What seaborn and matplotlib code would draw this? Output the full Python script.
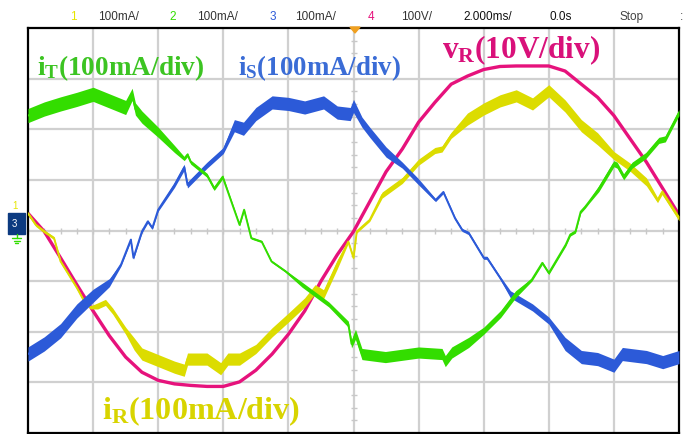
import numpy as np
import pandas as pd
import matplotlib
matplotlib.use("Agg")
import matplotlib.pyplot as plt
from matplotlib.lines import Line2D
import seaborn as sns

# ---------------- data (read from the scope screen) ----------------
# scales
CUR_PER_DIV = 100.0   # mA/div
VOLT_PER_DIV = 10.0   # V/div

# i_T (green), time in ms, current in mA
iT_t = [-10, -9.5, -9, -8.5, -8, -7.5, -7, -6.8, -6.7, -6.5,
        -6, -5.5, -5.2, -5.1, -5, -4.5, -4.28, -4.02, -3.5, -3.36,
        -3.14, -2.82, -2.52, -2.1, -1.58, -1.18, -0.76, -0.16, -0.06, 0.06,
        0.26, 0.98, 2.0, 2.72, 2.82, 3.02, 3.54, 4.0, 4.52, 4.98,
        5.48, 5.8, 6.0, 6.52, 6.66, 6.82, 6.98, 7.12, 7.24, 7.54,
        8.0, 8.1, 8.3, 8.56, 8.98, 9.38, 9.58, 10.0]
iT_mA = [227, 240, 250, 259, 269, 256, 243, 269, 240, 224,
         194, 161, 142, 150, 135, 109, 83, 106, 11, 41,
         -15, -22, -61, -80, -107, -126, -146, -185, -224, -205,
         -244, -250, -241, -244, -258, -241, -221, -198, -165, -126,
         -97, -64, -84, -28, -8, -2, 37, 47, 57, 83,
         132, 129, 106, 129, 148, 178, 181, 233]
iT_ripple = [14, 14, 14, 14, 14, 14, 14, 12, 12, 12,
             10, 7, 4, 4, 4, 4, 4, 4, 2, 2,
             2, 2, 2, 2, 5, 5, 5, 6, 8, 10,
             11, 11, 11, 11, 11, 11, 10, 7, 7, 7,
             3, 3, 3, 3, 3, 3, 3, 3, 3, 6,
             6, 6, 6, 6, 6, 6, 6, 6]

# i_S (blue)
iS_t = [-10, -9.5, -9, -8.5, -8, -7.5, -7.14, -6.84, -6.76, -6.5,
        -6.32, -6.18, -6, -5.5, -5.2, -5.1, -4.5, -4, -3.66, -3.38,
        -3, -2.5, -2, -1.5, -0.92, -0.5, -0.1, 0, 0.26, 0.5,
        1, 1.5, 2, 2.52, 2.76, 3.12, 3.34, 3.54, 4, 4.1,
        4.5, 4.82, 5.5, 6, 6.5, 7, 7.5, 8, 8.26, 9,
        9.5, 10]
iS_mA = [-244, -224, -198, -159, -129, -103, -67, -18, -54, -2,
         18, 5, 41, 90, 125, 90, 129, 158, 207, 201,
         230, 253, 250, 243, 253, 233, 230, 246, 214, 194,
         155, 129, 96, 60, 76, 24, 1, -5, -54, -54,
         -93, -126, -152, -178, -224, -250, -254, -267, -244, -250,
         -260, -250]
iS_ripple = [14, 14, 14, 14, 13, 8, 3, 3, 3, 3,
             3, 3, 3, 5, 6, 6, 6, 6, 12, 13,
             13, 13, 13, 13, 13, 13, 13, 13, 10, 10,
             10, 6, 6, 3, 3, 3, 3, 3, 3, 3,
             3, 7, 7, 7, 13, 13, 13, 13, 13, 13,
             13, 13]

# i_R (yellow)
iR_t = [-10, -9.76, -9.5, -9.2, -9, -8.5, -8.28, -8.08, -7.86, -7.62,
        -7.4, -7, -6.74, -6.5, -6, -5.5, -5.2, -5.1, -4.5, -4.08,
        -3.86, -3.5, -3, -2.5, -2, -1.5, -1.18, -0.92, -0.5, -0.16,
        0, 0.1, 0.5, 0.88, 1.5, 2, 2.5, 2.72, 3, 3.5,
        4, 4.5, 5, 5.5, 6, 6.5, 7, 7.5, 8, 8.5,
        9, 9.34, 9.48, 10]
iR_mA = [34, 11, -2, -15, -61, -113, -139, -152, -149, -142,
         -159, -198, -224, -244, -257, -270, -276, -254, -254, -273,
         -254, -254, -234, -201, -172, -142, -116, -126, -67, -22,
         -54, -2, 21, 70, 99, 135, 158, 161, 188, 220,
         240, 256, 266, 250, 276, 246, 207, 181, 148, 125,
         96, 60, 76, 24]
iR_ripple = [3, 3, 3, 3, 3, 3, 3, 3, 6, 6,
             6, 7, 12, 12, 12, 12, 12, 12, 12, 12,
             12, 12, 9, 9, 9, 9, 9, 9, 9, 3,
             3, 3, 3, 6, 6, 6, 6, 6, 6, 12,
             12, 12, 12, 12, 12, 12, 12, 12, 8, 8,
             8, 5, 5, 5]

# v_R (magenta), time in ms, voltage in V
vR_t = [-10, -9.5, -9, -8.5, -8, -7.5, -7, -6.5, -6, -5.5,
        -5, -4.5, -4, -3.5, -3, -2.5, -2, -1.5, -1, -0.5,
        0, 0.5, 1, 1.5, 2, 2.5, 3, 3.5, 4, 4.5,
        5, 5.5, 6, 6.5, 7, 7.5, 8, 8.5, 9, 9.5, 10]
vR_V = [3.4, -0.2, -5.4, -10.7, -15.9, -20.8, -25.0, -28.0, -29.6, -30.3,
        -30.6, -30.8, -30.8, -29.9, -27.6, -24.4, -20.5, -15.9, -10.0, -4.8,
        -0.2, 5.7, 11.6, 16.1, 21.4, 25.3, 28.9, 30.5, 31.8, 32.4,
        32.5, 32.5, 32.5, 31.5, 28.9, 26.3, 22.7, 18.1, 13.5, 8.3, 3.1]

header_items = ["1", "100mA/", "2", "100mA/", "3", "100mA/", "4", "100V/",
                "2.000ms/", "0.0s", "Stop", ":"]

# ---------------- style ----------------
C_YEL = "#dcdc00"
C_GRN = "#33dd00"
C_BLU = "#2c5ad8"
C_MAG = "#e6127c"
T_YEL = "#d8d400"
T_GRN = "#3cc422"
T_BLU = "#3a6cd6"
T_MAG = "#d9117a"

sns.set_style("white")
plt.rcParams["mathtext.fontset"] = "custom"
plt.rcParams["mathtext.bf"] = "Liberation Serif:bold"
plt.rcParams["mathtext.rm"] = "Liberation Serif:bold"
plt.rcParams["mathtext.it"] = "Liberation Serif:bold"

W, H = 687, 434
fig = plt.figure(figsize=(W / 100, H / 100), dpi=100)
fig.patch.set_facecolor("white")
ax = fig.add_axes([28 / W, 1 / H, 651 / W, 405 / H])
ax.set_xlim(-10, 10)
ax.set_ylim(-4, 4)
ax.set_xticks([])
ax.set_yticks([])
for s in ax.spines.values():
    s.set_color("black")
    s.set_linewidth(1.6)

# grid (divisions)
grid_col = "#d0d0d0"
for k in range(-4, 5):
    ax.axvline(k * 2, color=grid_col, lw=1.6, zorder=0)
for k in range(-3, 4):
    ax.axhline(k, color=grid_col, lw=1.6, zorder=0)
minor_x = np.arange(-10, 10.01, 0.5)
minor_y = np.arange(-4, 4.01, 0.25)
ax.plot(minor_x, np.zeros_like(minor_x), ls="none", marker="|", ms=5,
        mew=1.0, color="#c8c8c8", zorder=0)
ax.plot(np.zeros_like(minor_y), minor_y, ls="none", marker="_", ms=5,
        mew=1.0, color="#c8c8c8", zorder=0)


def trace(t, vals, ripple, scale, color, lw, z):
    t = np.asarray(t, float)
    y = np.asarray(vals, float) / scale
    df = pd.DataFrame({"t": t, "y": y})
    if ripple is not None:
        r = np.asarray(ripple, float) / scale
        ax.fill_between(t, y - r, y + r, color=color, lw=0, zorder=z)
    sns.lineplot(data=df, x="t", y="y", ax=ax, color=color, lw=lw,
                 estimator=None, sort=False, zorder=z + 0.1, legend=False)


trace(vR_t, vR_V, None, VOLT_PER_DIV, C_MAG, 2.4, 2)
trace(iR_t, iR_mA, iR_ripple, CUR_PER_DIV, C_YEL, 1.4, 3)
trace(iS_t, iS_mA, iS_ripple, CUR_PER_DIV, C_BLU, 1.4, 4)
trace(iT_t, iT_mA, iT_ripple, CUR_PER_DIV, C_GRN, 1.4, 5)
ax.set_xlabel("")
ax.set_ylabel("")


def ftext(x, y, s, **kw):
    fig.text(x / W, 1 - y / H, s, **kw)


# channel labels
ftext(37, 75, r"$\mathbf{i}_{\mathbf{T}}\mathbf{(100mA/div)}$", color=T_GRN,
      fontsize=19.6, va="baseline", ha="left")
ftext(238, 75, r"$\mathbf{i}_{\mathbf{S}}\mathbf{(100mA/div)}$", color=T_BLU,
      fontsize=19.4, va="baseline", ha="left")
ftext(442, 58, r"$\mathbf{v}_{\mathbf{R}}\mathbf{(10V/div)}$", color=T_MAG,
      fontsize=22.5, va="baseline", ha="left")
ftext(102, 419, r"$\mathbf{i}_{\mathbf{R}}\mathbf{(100mA/div)}$", color=T_YEL,
      fontsize=23.1, va="baseline", ha="left")

# header line
hx = [70, 98, 169, 197, 270, 295, 368, 401, 463, 549, 619, 680]
hc = ["#e6e600", "#333333", "#33dd00", "#333333", "#2c5ad8", "#333333",
      "#e6127c", "#333333", "#111111", "#111111", "#444444", "#444444"]
for x, s, c in zip(hx, header_items, hc):
    ftext(x, 17, s, color=c, fontsize=8.5, family="Liberation Sans",
          va="center", ha="left")

# trigger marker
fig.patches.append(plt.Polygon([[350 / W, 1 - 27 / H], [360 / W, 1 - 27 / H],
                                [355 / W, 1 - 33 / H]], closed=True,
                               transform=fig.transFigure, color="#f0a020"))

# channel ground markers at left
fig.patches.append(plt.Rectangle((8 / W, 1 - 234 / H), 17 / W, 21 / H,
                                 transform=fig.transFigure, color="#0c3a80"))
ftext(12, 224, "3", color="white", fontsize=7, family="Liberation Sans",
      va="center", ha="left")
ftext(12, 206, "1", color="#e6e600", fontsize=7, family="Liberation Sans",
      va="center", ha="left")


def fline(xs, ys, **kw):
    fig.lines.append(Line2D([x / W for x in xs], [1 - y / H for y in ys],
                            transform=fig.transFigure, **kw))


# green ground symbol (drawn as lines)
fline([16.5, 16.5], [234, 238], color="#33dd00", lw=1)
fline([12, 21], [238, 238], color="#33dd00", lw=1)
fline([13.5, 19.5], [240.5, 240.5], color="#33dd00", lw=1)
fline([15, 18], [243, 243], color="#33dd00", lw=1)

fig.savefig("out.png", dpi=100, facecolor="white")
